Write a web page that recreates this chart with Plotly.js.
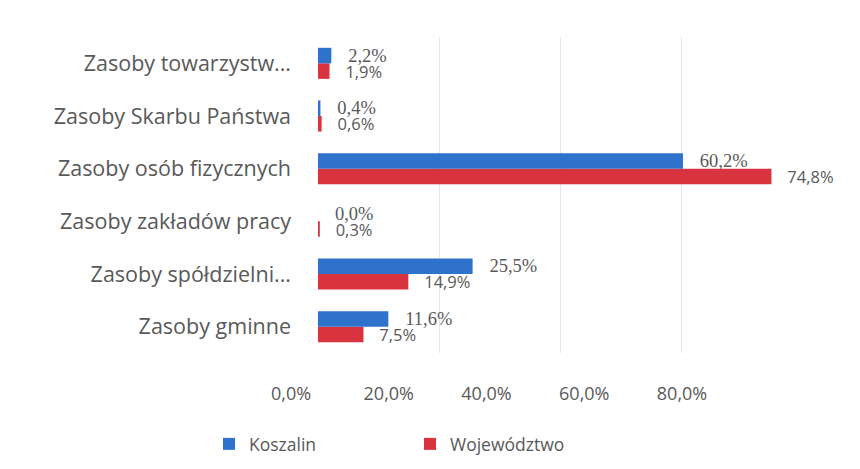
<!DOCTYPE html>
<html>
<head>
<meta charset="utf-8">
<script src="https://cdn.plot.ly/plotly-3.0.1.min.js"></script>
<style>html,body{margin:0;padding:0;background:#fff;}#chart{width:860px;height:469px;}</style>
</head>
<body>
<div id="chart"></div>
<script>
// categories bottom -> top
const categories = [
  "Zasoby gminne",
  "Zasoby spółdzielni...",
  "Zasoby zakładów pracy",
  "Zasoby osób fizycznych",
  "Zasoby Skarbu Państwa",
  "Zasoby towarzystw..."
];
const koszalin = [11.6, 25.5, 0.0, 60.2, 0.4, 2.2];
const wojewodztwo = [7.5, 14.9, 0.3, 74.8, 0.6, 1.9];
const tickValues = [0, 20, 40, 60, 80];
const tickLabels = ["0,0%", "20,0%", "40,0%", "60,0%", "80,0%"];
const seriesNames = ["Koszalin", "Województwo"];

const gray = "#595959";
const traces = [
  {
    type: "bar", orientation: "h", name: seriesNames[1],
    y: categories, x: wojewodztwo,
    marker: {color: "#d9333f"},
    texttemplate: "\u00a0\u00a0\u00a0%{x:.1f}%", textposition: "outside",
    constraintext: "none",
    textfont: {family: "Open Sans", size: 16.5, color: gray},
    cliponaxis: false, hoverinfo: "none"
  },
  {
    type: "bar", orientation: "h", name: seriesNames[0],
    y: categories, x: koszalin,
    marker: {color: "#2f72cc"},
    texttemplate: "\u00a0\u00a0\u00a0%{x:.1f}%", textposition: "outside",
    constraintext: "none",
    textfont: {family: "Liberation Serif", size: 18.5, color: gray},
    cliponaxis: false, hoverinfo: "none"
  },
  {
    // carrier for the tick-label axis (no visible marks)
    type: "scatter", mode: "none", xaxis: "x2", yaxis: "y",
    x: [tickValues[0], tickValues[tickValues.length - 1]],
    y: [categories[0], categories[0]],
    showlegend: false, hoverinfo: "none"
  }
];

const L = 280, R = 50, W = 860 - L - R;
const layout = {
  width: 860, height: 469,
  margin: {l: L, r: R, t: 37, b: 116, autoexpand: false},
  paper_bgcolor: "#fff", plot_bgcolor: "rgba(0,0,0,0)",
  separators: ", ",
  barmode: "group", bargap: 0.41, bargroupgap: 0,
  showlegend: true,
  legend: {
    orientation: "h", traceorder: "reversed",
    x: (209 - L) / W, xanchor: "left", y: (353 - 444) / 316, yanchor: "middle",
    entrywidth: 156, entrywidthmode: "pixels",
    font: {family: "Open Sans", size: 17.5, color: gray}
  },
  xaxis: {
    domain: [(318 - L) / W, (803 - L) / W],
    range: [0, 80], autorange: false,
    tickvals: tickValues, showticklabels: false,
    showgrid: true, gridcolor: "#e6e6e6", gridwidth: 1,
    zeroline: false, showline: false, ticks: "", fixedrange: true
  },
  xaxis2: {
    domain: [(291 - L) / W, (682 - L) / W],
    anchor: "y",
    range: [0, 80], autorange: false,
    tickmode: "array", tickvals: tickValues, ticktext: tickLabels,
    showgrid: false, zeroline: false, showline: false,
    ticks: "outside", ticklen: 24, tickcolor: "rgba(0,0,0,0)",
    tickfont: {family: "Open Sans", size: 18, color: gray}
  },
  yaxis: {
    type: "category", anchor: "x",
    showgrid: false, zeroline: false, showline: false, ticks: "",
    ticklabelstandoff: 26,
    tickfont: {family: "Open Sans", size: 21.5, color: gray}
  }
};

Plotly.newPlot("chart", traces, layout, {staticPlot: true, displayModeBar: false});
</script>
</body>
</html>
